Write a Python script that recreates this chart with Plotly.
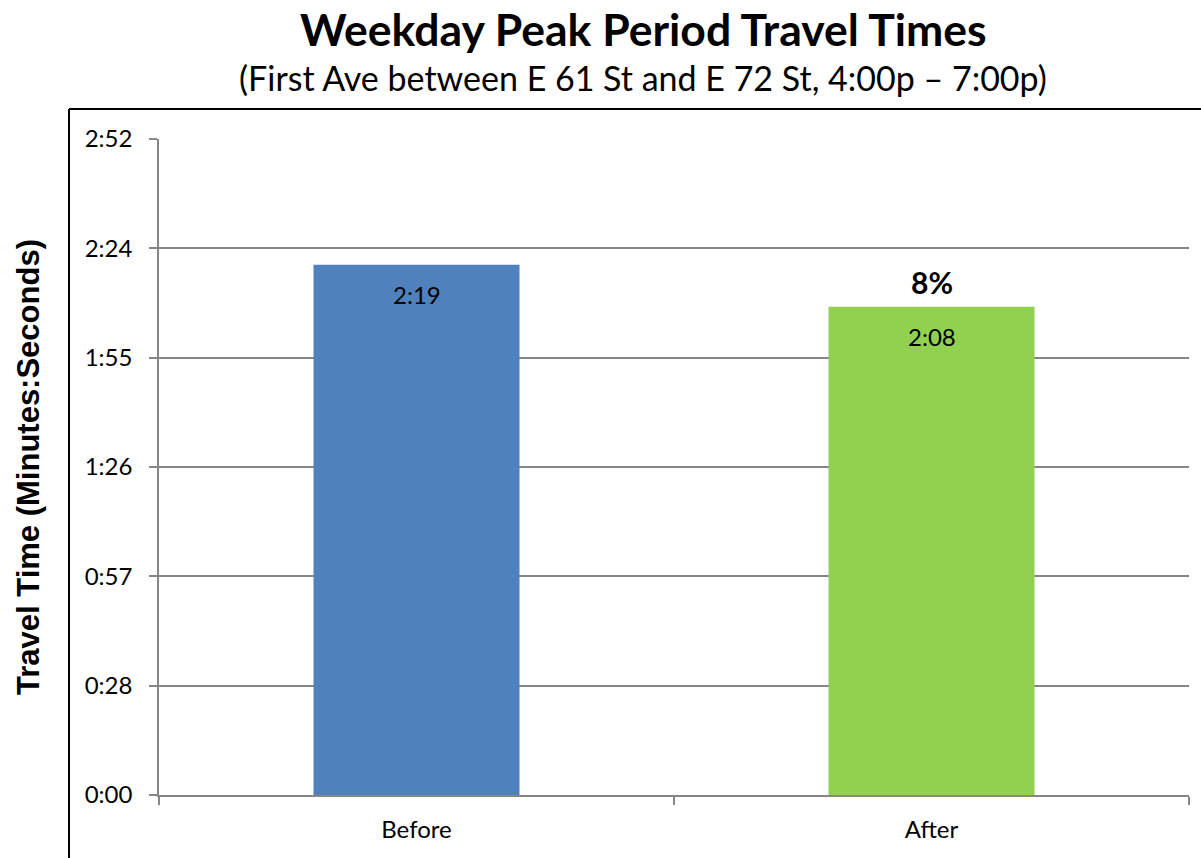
import plotly.graph_objects as go

# Travel time data (seconds)
categories = ["Before", "After"]
travel_seconds = [139, 128]
bar_colors = ["#4F81BD", "#92D050"]
change_label = "8%"

# Y axis ticks (seconds) and their displayed labels
y_max = 172
tick_values = [0, 172 / 6, 2 * 172 / 6, 3 * 172 / 6, 4 * 172 / 6, 5 * 172 / 6, 172]
tick_labels = ["0:00", "0:28", "0:57", "1:26", "1:55", "2:24", "2:52"]


def fmt_mss(s):
    return f"{int(s) // 60}:{int(s) % 60:02d}"


font_body = "Lato, 'Open Sans', sans-serif"

fig = go.Figure(
    go.Bar(
        x=categories,
        y=travel_seconds,
        marker=dict(color=bar_colors, line=dict(width=0)),
        width=0.4,
        hoverinfo="skip",
    )
)

# Value labels just inside the top of each bar
for cat, val in zip(categories, travel_seconds):
    fig.add_annotation(
        x=cat, y=val, xref="x", yref="y", yanchor="top", yshift=-13,
        text=fmt_mss(val), showarrow=False,
        font=dict(family=font_body, size=24, color="black"),
    )

# Percent change label above the "After" bar
fig.add_annotation(
    x=categories[1], y=travel_seconds[1], yref="y", xref="x", yanchor="middle",
    text=f"<b>{change_label}</b>", showarrow=False,
    yshift=25, font=dict(family=font_body, size=30, color="black"),
)

plot_h = 858 - 139 - 63
plot_w = 1201 - 159 - 12
title_x = (643 - 159) / plot_w

# Title and subtitle
fig.add_annotation(
    x=title_x, y=1 + (139 - 28) / plot_h, xref="paper", yref="paper", yanchor="middle",
    text="<b>Weekday Peak Period Travel Times</b>", showarrow=False,
    font=dict(family=font_body, size=44.5, color="black"),
)
fig.add_annotation(
    x=title_x, y=1 + (139 - 78) / plot_h, xref="paper", yref="paper", yanchor="middle",
    text="(First Ave between E 61 St and E 72 St, 4:00p \u2013 7:00p)", showarrow=False,
    font=dict(family=font_body, size=34, color="black"),
)

fig.update_layout(
    width=1201,
    height=858,
    margin=dict(l=159, r=12, t=139, b=63),
    paper_bgcolor="white",
    plot_bgcolor="white",
    showlegend=False,
    xaxis=dict(
        type="category",
        tickson="boundaries",
        ticks="outside",
        ticklen=8,
        tickcolor="#868686",
        tickwidth=1.5,
        showline=True,
        linecolor="#868686",
        linewidth=1.5,
        showgrid=False,
        ticklabelstandoff=12,
        tickfont=dict(family=font_body, size=24, color="black"),
        fixedrange=True,
    ),
    yaxis=dict(
        range=[0, y_max],
        tickmode="array",
        tickvals=tick_values,
        ticktext=tick_labels,
        ticks="outside",
        ticklen=8,
        tickcolor="#868686",
        tickwidth=1.5,
        showline=True,
        linecolor="#868686",
        linewidth=1.5,
        showgrid=True,
        gridcolor="#868686",
        gridwidth=1.5,
        zeroline=False,
        ticklabelstandoff=12,
        tickfont=dict(family=font_body, size=24, color="black"),
        title=dict(
            text="<b>Travel Time (Minutes:Seconds)</b>",
            font=dict(family="'Liberation Sans', Arial, sans-serif", size=31, color="black"),
            standoff=36,
        ),
        fixedrange=True,
    ),
)

# Outer chart frame (top and left edges visible)
fx0 = (69 - 159) / plot_w
fy1 = 1 + (139 - 109) / plot_h
fig.add_shape(type="line", xref="paper", yref="paper", x0=fx0, x1=1.1, y0=fy1, y1=fy1,
              line=dict(color="black", width=2))
fig.add_shape(type="line", xref="paper", yref="paper", x0=fx0, x1=fx0, y0=fy1, y1=-0.2,
              line=dict(color="black", width=2))

fig.write_html("out.html", config=dict(displayModeBar=False))
